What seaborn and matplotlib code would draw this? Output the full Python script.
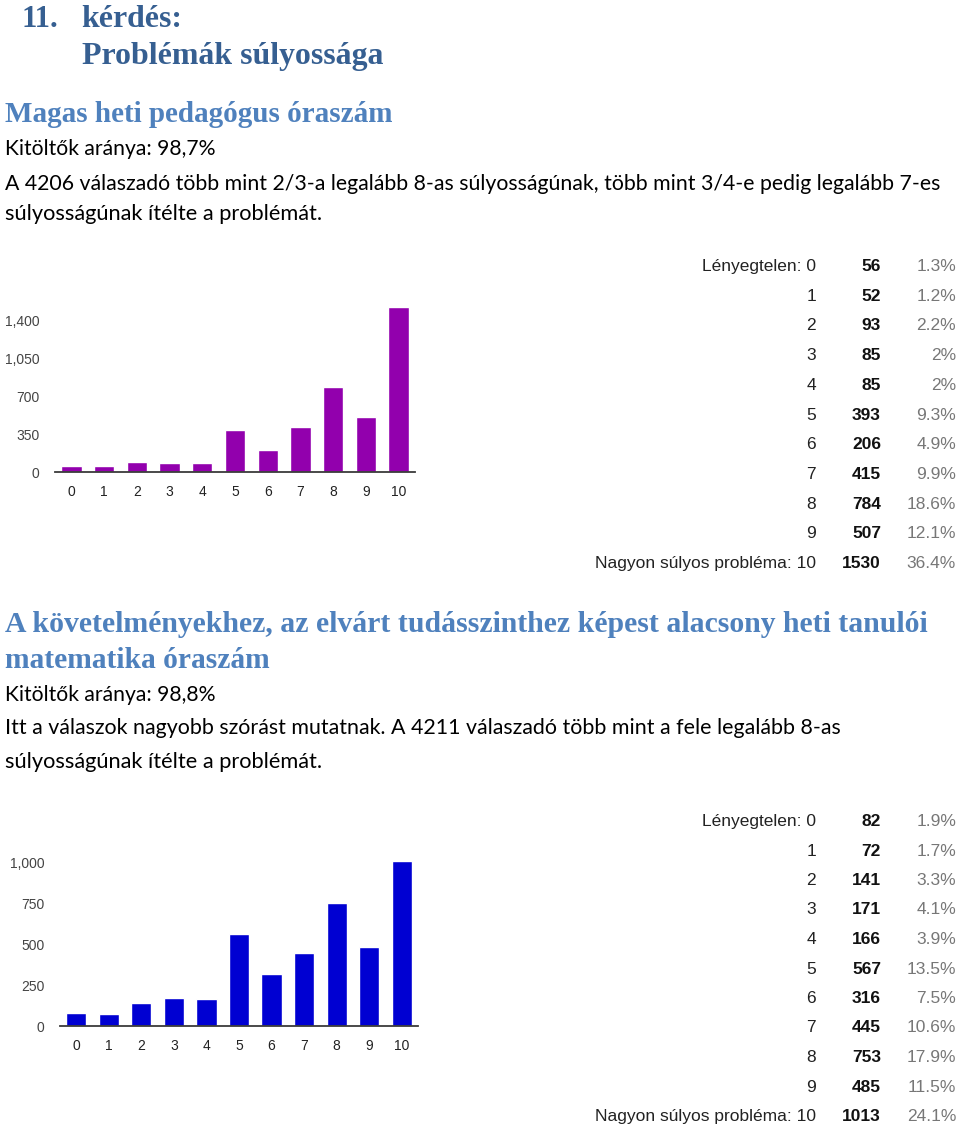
import matplotlib
matplotlib.use("Agg")
import matplotlib.pyplot as plt
from matplotlib.ticker import FuncFormatter, FixedLocator
import seaborn as sns
import pandas as pd

# ---------------- data ----------------
scores = [0, 1, 2, 3, 4, 5, 6, 7, 8, 9, 10]
score_labels = ["Lényegtelen: 0", "1", "2", "3", "4", "5", "6", "7", "8", "9",
                "Nagyon súlyos probléma: 10"]

counts1 = [56, 52, 93, 85, 85, 393, 206, 415, 784, 507, 1530]
pct1 = [1.3, 1.2, 2.2, 2, 2, 9.3, 4.9, 9.9, 18.6, 12.1, 36.4]
yticks1 = [0, 350, 700, 1050, 1400]

counts2 = [82, 72, 141, 171, 166, 567, 316, 445, 753, 485, 1013]
pct2 = [1.9, 1.7, 3.3, 4.1, 3.9, 13.5, 7.5, 10.6, 17.9, 11.5, 24.1]
yticks2 = [0, 250, 500, 750, 1000]

# ---------------- setup ----------------
sns.set_theme(style="white")
plt.rcParams['font.family'] = ['Liberation Sans', 'DejaVu Sans']

W, H = 960, 1131
fig = plt.figure(figsize=(W / 100, H / 100), dpi=100)
fig.patch.set_facecolor('white')
renderer = fig.canvas.get_renderer()


def fx(x):
    return x / W


def fy(y):
    return 1 - y / H


def fit_text(x, y, s, width, **kw):
    t = fig.text(fx(x), fy(y), s, va='baseline', ha='left', **kw)
    bb = t.get_window_extent(renderer)
    t.set_fontsize(t.get_fontsize() * width / bb.width)
    return t


DARK_BLUE = '#365f91'
MID_BLUE = '#4f81bd'
serif = ['Liberation Serif', 'DejaVu Serif']
body = ['Lato', 'DejaVu Sans']

# ---------------- header texts ----------------
fit_text(22, 27, "11.", 37, family=serif, weight='bold', color=DARK_BLUE, fontsize=22)
fit_text(81, 27, "kérdés:", 101, family=serif, weight='bold', color=DARK_BLUE, fontsize=22)
fit_text(82, 64, "Problémák súlyossága", 301, family=serif, weight='bold', color=DARK_BLUE, fontsize=22)

fit_text(5, 122, "Magas heti pedagógus óraszám", 388, family=serif, weight='bold', color=MID_BLUE, fontsize=20)
fit_text(5, 155, "Kitöltők aránya: 98,7%", 211, family=body, color='black', fontsize=14)
fit_text(5, 190, "A 4206 válaszadó több mint 2/3-a legalább 8-as súlyosságúnak, több mint 3/4-e pedig legalább 7-es",
         938, family=body, color='black', fontsize=14)
fit_text(5, 220, "súlyosságúnak ítélte a problémát.", 317, family=body, color='black', fontsize=14)

fit_text(5, 632, "A követelményekhez, az elvárt tudásszinthez képest alacsony heti tanulói", 923,
         family=serif, weight='bold', color=MID_BLUE, fontsize=20)
fit_text(5, 668, "matematika óraszám", 265, family=serif, weight='bold', color=MID_BLUE, fontsize=20)
fit_text(5, 701, "Kitöltők aránya: 98,8%", 211, family=body, color='black', fontsize=14)
fit_text(5, 734, "Itt a válaszok nagyobb szórást mutatnak. A 4211 válaszadó több mint a fele legalább 8-as",
         838, family=body, color='black', fontsize=14)
fit_text(5, 768, "súlyosságúnak ítélte a problémát.", 317, family=body, color='black', fontsize=14)


# ---------------- bar panels ----------------
def bar_panel(left, right, bottom, top, ymax, counts, color, yticks):
    ax = fig.add_axes([fx(left), fy(bottom), (right - left) / W, (bottom - top) / H])
    df = pd.DataFrame({'score': [str(s) for s in scores], 'count': counts})
    sns.barplot(data=df, x='score', y='count', color=color, saturation=1,
                width=0.62, ax=ax, order=[str(s) for s in scores])
    ax.set_xlim(-0.5, len(scores) - 0.5)
    ax.set_ylim(0, ymax)
    ax.yaxis.set_major_locator(FixedLocator(yticks))
    ax.yaxis.set_major_formatter(FuncFormatter(lambda v, p: f"{int(v):,}"))
    ax.set_xlabel('')
    ax.set_ylabel('')
    for s in ['top', 'right', 'left']:
        ax.spines[s].set_visible(False)
    ax.spines['bottom'].set_color('#3a3a3a')
    ax.spines['bottom'].set_linewidth(1.3)
    ax.tick_params(axis='y', length=0, pad=11, labelsize=10, labelcolor='#444444')
    ax.tick_params(axis='x', length=0, pad=9, labelsize=10, labelcolor='#222222')
    ax.set_facecolor('white')
    ax.grid(False)
    return ax


bar_panel(55, 415, 472, 290, 182 / 0.10786, counts1, '#9200ad', yticks1)
bar_panel(60, 418, 1026, 845, 181 / 0.163, counts2, '#0000d2', yticks2)


# ---------------- side tables ----------------
def side_table(y0, step, counts, pcts):
    for i, (lab, c, p) in enumerate(zip(score_labels, counts, pcts)):
        yb = y0 + i * step + 6
        fig.text(fx(816), fy(yb), lab, ha='right', va='baseline', fontsize=12.5, color='#222222')
        fig.text(fx(881), fy(yb), f"{c}", ha='right', va='baseline', fontsize=12.5,
                 weight='bold', color='#111111')
        fig.text(fx(956), fy(yb), f"{p:g}%", ha='right', va='baseline', fontsize=12.5,
                 color='#777777')


side_table(265, 29.7, counts1, pct1)
side_table(820, 29.5, counts2, pct2)

fig.savefig('out.png', dpi=100, facecolor='white')
